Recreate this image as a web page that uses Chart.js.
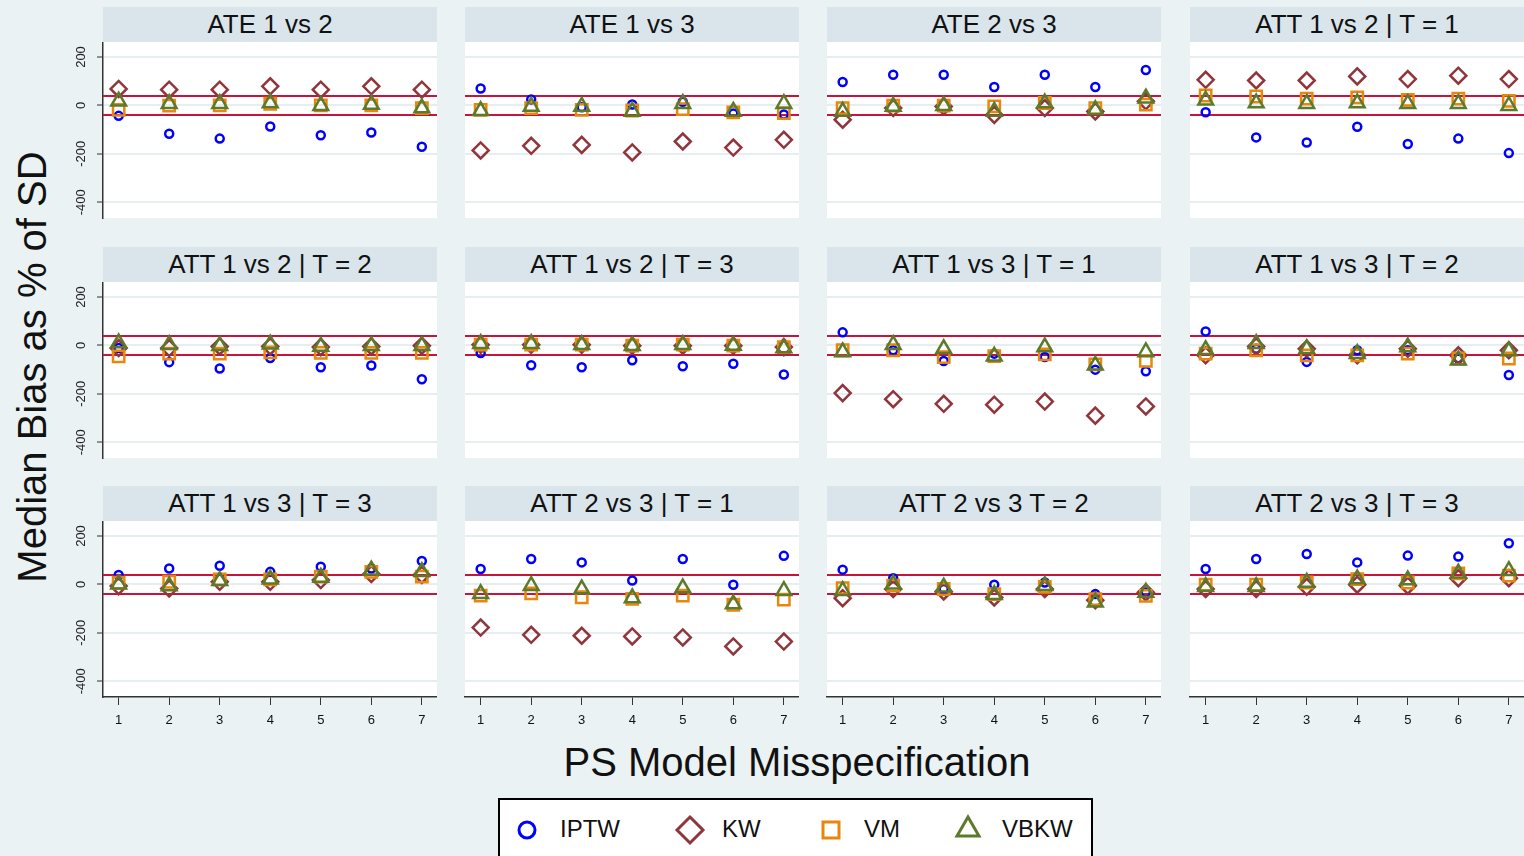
<!DOCTYPE html>
<html>
<head>
<meta charset="utf-8">
<script src="https://cdn.jsdelivr.net/npm/chart.js@4.4.0/dist/chart.umd.min.js"></script>
<style>
  body { margin: 0; background: #eaf2f4; font-family: "Liberation Sans", Arial, sans-serif; }
  #page { position: relative; width: 1524px; height: 856px; overflow: hidden; background: #eaf2f4; }
  .head { position: absolute; height: 35px; line-height: 35px; background: #d9e5eb; text-align: center; font-size: 26px; color: #111; }
  .panel { position: absolute; }
  #ytitle { position: absolute; left: 32px; top: 367px; transform: translate(-50%, -50%) rotate(-90deg); font-size: 40px; white-space: nowrap; color: #111; }
  #xtitle { position: absolute; left: 797px; top: 762px; transform: translate(-50%, -50%); font-size: 40px; white-space: nowrap; color: #111; }
  #legend { position: absolute; left: 498px; top: 798px; width: 591px; height: 70px; background: #fff; border: 2px solid #000; }
  #legend span { position: absolute; top: 15px; font-size: 24px; color: #111; }
  #legend svg { position: absolute; left: 0; top: 0; }
</style>
</head>
<body>
<div id="page">
  <div id="ytitle">Median Bias as % of SD</div>
  <div id="xtitle">PS Model Misspecification</div>
  <div id="legend">
    <svg width="591" height="70">
      <circle cx="27" cy="30" r="8" fill="none" stroke="#0000ff" stroke-width="3"/>
      <polygon points="190,17 203,30 190,43 177,30" fill="none" stroke="#90353b" stroke-width="3"/>
      <rect x="323" y="22" width="16" height="16" fill="none" stroke="#e8870e" stroke-width="3"/>
      <polygon points="468,17 479,36 457,36" fill="none" stroke="#5b7a2c" stroke-width="3"/>
    </svg>
    <span style="left:60px">IPTW</span>
    <span style="left:222px">KW</span>
    <span style="left:364px">VM</span>
    <span style="left:502px">VBKW</span>
  </div>
</div>
<script>
const panelTitles = [
  "ATE 1 vs 2", "ATE 1 vs 3", "ATE 2 vs 3", "ATT 1 vs 2 | T = 1",
  "ATT 1 vs 2 | T = 2", "ATT 1 vs 2 | T = 3", "ATT 1 vs 3 | T = 1", "ATT 1 vs 3 | T = 2",
  "ATT 1 vs 3 | T = 3", "ATT 2 vs 3 | T = 1", "ATT 2 vs 3 T = 2", "ATT 2 vs 3 | T = 3"
];
const xValues = [1, 2, 3, 4, 5, 6, 7];
const yTicks = [200, 0, -200, -400];
const refLines = [40, -40];

// one row per panel, one value per misspecification level
const iptw = [
  [-43, -117, -137, -87, -123, -112, -171],
  [70, 25, -8, 4, 15, -33, -37],
  [97, 127, 127, 76, 127, 76, 146],
  [-28, -132, -153, -88, -159, -137, -197],
  [-11, -69, -95, -52, -90, -83, -140],
  [-31, -82, -90, -61, -86, -76, -120],
  [54, -20, -64, -34, -48, -100, -107],
  [58, -14, -68, -20, -20, -54, -122],
  [39, 66, 77, 52, 73, 66, 97],
  [64, 105, 91, 16, 105, -1, 118],
  [61, 26, -19, -1, 8, -40, -33],
  [64, 105, 126, 91, 119, 115, 170]
];
const kw = [
  [68, 65, 65, 79, 65, 79, 65],
  [-186, -167, -163, -194, -149, -174, -142],
  [-59, -11, -4, -39, -11, -25, 17],
  [106, 103, 103, 120, 109, 123, 109],
  [-11, -11, -4, -4, -7, -4, -1],
  [3, 3, 3, -1, -1, -1, -7],
  [-197, -222, -241, -245, -232, -290, -252],
  [-41, -4, -14, -41, -14, -41, -20],
  [-7, -17, 11, 11, 18, 43, 39],
  [-178, -208, -212, -215, -219, -256, -236],
  [-57, -19, -29, -54, -19, -65, -33],
  [-19, -19, -10, -1, -5, 26, 26]
];
const vm = [
  [-18, -1, 0, 7, 0, 0, -11],
  [-18, -11, -18, -21, -15, -29, -32],
  [-11, -1, -1, -4, 10, -11, 3],
  [41, 37, 28, 33, 23, 28, 19],
  [-45, -34, -34, -29, -31, -31, -31],
  [3, 3, 3, -1, 3, -1, -7],
  [-20, -20, -48, -44, -37, -78, -64],
  [-34, -20, -41, -41, -34, -54, -54],
  [7, 11, 21, 21, 32, 52, 32],
  [-46, -37, -53, -60, -46, -84, -63],
  [-15, -5, -19, -40, -10, -61, -47],
  [-1, -1, 8, 22, 8, 46, 36]
];
const vbkw = [
  [17, 7, 7, 10, -1, 4, -11],
  [-22, -4, -4, -25, 7, -25, 7],
  [-25, -4, -1, -25, 10, -18, 30],
  [21, 10, 7, 10, 7, 7, -1],
  [10, 3, -1, 5, -4, -1, -1],
  [7, 7, 3, -1, 3, 0, -11],
  [-27, 3, -14, -45, -7, -82, -27],
  [-18, 7, -14, -34, -7, -61, -23],
  [1, -7, 15, 21, 29, 59, 52],
  [-39, -5, -19, -56, -15, -81, -26],
  [-26, 1, -12, -43, -5, -74, -33],
  [-10, -10, 8, 22, 18, 46, 57]
];

const plotLeft = [103, 465, 827, 1190];
const plotTop = [42, 282, 521];
const plotW = 334, plotH = 176;

const page = document.getElementById('page');

const panelBg = {
  id: 'panelBg',
  beforeDraw(chart) {
    const a = chart.chartArea, ctx = chart.ctx;
    ctx.save();
    ctx.fillStyle = '#ffffff';
    ctx.fillRect(a.left, a.top, a.right - a.left, a.bottom - a.top);
    ctx.restore();
  }
};

const refLinePlugin = {
  id: 'refLinePlugin',
  beforeDatasetsDraw(chart) {
    const a = chart.chartArea, ctx = chart.ctx, ys = chart.scales.y;
    ctx.save();
    ctx.strokeStyle = '#c8143c';
    ctx.lineWidth = 2;
    refLines.forEach(v => {
      const py = Math.round(ys.getPixelForValue(v));
      ctx.beginPath();
      ctx.moveTo(a.left, py);
      ctx.lineTo(a.right, py);
      ctx.stroke();
    });
    ctx.restore();
  }
};

const yLabels = {
  id: 'yLabels',
  afterDraw(chart, args, opts) {
    if (!opts.show) return;
    const ys = chart.scales.y, ctx = chart.ctx;
    ctx.save();
    ctx.font = '13px "Liberation Sans", Arial';
    ctx.fillStyle = '#222';
    ctx.textAlign = 'center';
    ctx.textBaseline = 'middle';
    yTicks.forEach(v => {
      ctx.save();
      ctx.translate(chart.chartArea.left - 22, ys.getPixelForValue(v));
      ctx.rotate(-Math.PI / 2);
      ctx.fillText(String(v), 0, 0);
      ctx.restore();
    });
    ctx.restore();
  }
};

function series(label, vals, shape, color, radius, order) {
  return {
    label: label,
    data: xValues.map((x, i) => ({ x: x, y: vals[i] })),
    pointStyle: shape,
    pointRadius: radius,
    pointBorderWidth: 2.5,
    borderColor: color,
    backgroundColor: 'transparent',
    order: order
  };
}

panelTitles.forEach((title, p) => {
  const r = Math.floor(p / 4), c = p % 4;
  const yw = c === 0 ? 45 : 5;
  const xh = 34;
  const bottomRow = r === 2;

  const head = document.createElement('div');
  head.className = 'head';
  head.style.left = plotLeft[c] + 'px';
  head.style.top = (plotTop[r] - 35) + 'px';
  head.style.width = plotW + 'px';
  head.textContent = title;
  page.appendChild(head);

  const cv = document.createElement('canvas');
  cv.className = 'panel';
  cv.width = plotW + yw;
  cv.height = plotH + xh;
  cv.style.left = (plotLeft[c] - yw) + 'px';
  cv.style.top = plotTop[r] + 'px';
  page.appendChild(cv);

  new Chart(cv.getContext('2d'), {
    type: 'scatter',
    data: {
      datasets: [
        series('IPTW', iptw[p], 'circle', '#0000ff', 4, 4),
        series('KW', kw[p], 'rectRot', '#90353b', 8, 3),
        series('VM', vm[p], 'rect', '#e8870e', 8, 2),
        series('VBKW', vbkw[p], 'triangle', '#5b7a2c', 8.5, 1)
      ]
    },
    options: {
      responsive: false,
      animation: false,
      events: [],
      layout: { padding: 0, autoPadding: false },
      plugins: {
        legend: { display: false },
        tooltip: { enabled: false },
        yLabels: { show: c === 0 }
      },
      scales: {
        x: {
          type: 'linear',
          min: 0.69,
          max: 7.3,
          afterBuildTicks: s => { s.ticks = xValues.map(v => ({ value: v })); },
          afterFit: s => { s.height = xh; },
          grid: {
            display: bottomRow,
            drawOnChartArea: false,
            drawTicks: true,
            tickLength: 8,
            tickColor: '#333',
            tickWidth: 1
          },
          border: { display: bottomRow, color: '#333', width: 1.5 },
          ticks: {
            display: bottomRow,
            padding: 8,
            color: '#111',
            font: { size: 13, family: '"Liberation Sans", Arial' }
          }
        },
        y: {
          min: -465,
          max: 262,
          afterBuildTicks: s => { s.ticks = yTicks.map(v => ({ value: v })); },
          afterFit: s => { s.width = yw; },
          grid: {
            color: '#e6eef1',
            lineWidth: 2,
            drawTicks: c === 0,
            tickLength: 6,
            tickColor: '#333',
            tickWidth: 1
          },
          border: { display: c === 0, color: '#333', width: 1.5 },
          ticks: { display: false }
        }
      }
    },
    plugins: [panelBg, refLinePlugin, yLabels]
  });
});
</script>
</body>
</html>
